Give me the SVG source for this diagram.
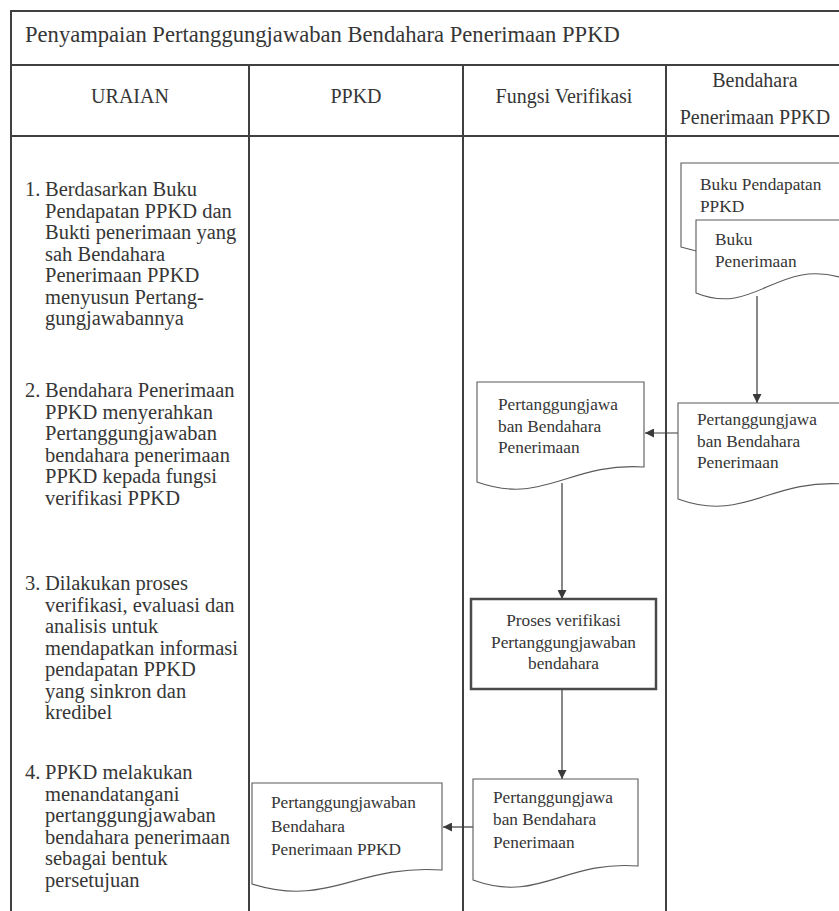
<svg xmlns="http://www.w3.org/2000/svg" width="839" height="911" viewBox="0 0 839 911">
  <defs>
    <marker id="arrow" viewBox="0 0 10 10" refX="10" refY="5" markerWidth="10" markerHeight="9" markerUnits="userSpaceOnUse" orient="auto">
      <path d="M0,0 L10,5 L0,10 z" fill="#3a3a3a"/>
    </marker>
    <style>
      .grid { stroke: #404040; stroke-width: 2; fill: none; }
      .doc { fill: #ffffff; stroke: #5a5a5a; stroke-width: 1.1; }
      .proc { fill: #ffffff; stroke: #4a4a4a; stroke-width: 2.5; }
      .conn { stroke: #3a3a3a; stroke-width: 1.2; fill: none; marker-end: url(#arrow); }
      text { font-family: "Liberation Serif", "Times New Roman", serif; fill: #363636; }
      .title { font-size: 22.6px; }
      .head { font-size: 20px; text-anchor: middle; }
      .step { font-size: 20.5px; }
      .lbl { font-size: 17.3px; }
      .mid { text-anchor: middle; }
    </style>
  </defs>

  <rect width="839" height="911" fill="#ffffff"/>

  <!-- table frame -->
  <g id="table">
    <line class="grid" x1="11" y1="11" x2="839" y2="11"/>
    <line class="grid" x1="11" y1="65" x2="839" y2="65"/>
    <line class="grid" x1="11" y1="136" x2="839" y2="136"/>
    <line class="grid" x1="11" y1="10" x2="11" y2="911"/>
    <line class="grid" x1="249" y1="65" x2="249" y2="911"/>
    <line class="grid" x1="463" y1="65" x2="463" y2="911"/>
    <line class="grid" x1="666" y1="65" x2="666" y2="911"/>
    <text class="title" x="25" y="42">Penyampaian Pertanggungjawaban Bendahara Penerimaan PPKD</text>
    <text class="head" x="130" y="103">URAIAN</text>
    <text class="head" x="356" y="103">PPKD</text>
    <text class="head" x="564" y="103">Fungsi Verifikasi</text>
    <text class="head" x="755" y="87">Bendahara</text>
    <text class="head" x="755" y="124">Penerimaan PPKD</text>
  </g>

  <!-- step descriptions -->
  <g id="steps">
    <g id="step1">
      <text class="step" x="25" y="196">1.</text>
      <text class="step" y="196">
        <tspan x="45">Berdasarkan Buku</tspan>
        <tspan x="45" dy="21.5">Pendapatan PPKD dan</tspan>
        <tspan x="45" dy="21.5">Bukti penerimaan yang</tspan>
        <tspan x="45" dy="21.5">sah Bendahara</tspan>
        <tspan x="45" dy="21.5">Penerimaan PPKD</tspan>
        <tspan x="45" dy="21.5">menyusun Pertang-</tspan>
        <tspan x="45" dy="21.5">gungjawabannya</tspan>
      </text>
    </g>
    <g id="step2">
      <text class="step" x="25" y="397">2.</text>
      <text class="step" y="397">
        <tspan x="45">Bendahara Penerimaan</tspan>
        <tspan x="45" dy="21.5">PPKD menyerahkan</tspan>
        <tspan x="45" dy="21.5">Pertanggungjawaban</tspan>
        <tspan x="45" dy="21.5">bendahara penerimaan</tspan>
        <tspan x="45" dy="21.5">PPKD kepada fungsi</tspan>
        <tspan x="45" dy="21.5">verifikasi PPKD</tspan>
      </text>
    </g>
    <g id="step3">
      <text class="step" x="25" y="590">3.</text>
      <text class="step" y="590">
        <tspan x="45">Dilakukan proses</tspan>
        <tspan x="45" dy="21.5">verifikasi, evaluasi dan</tspan>
        <tspan x="45" dy="21.5">analisis untuk</tspan>
        <tspan x="45" dy="21.5">mendapatkan informasi</tspan>
        <tspan x="45" dy="21.5">pendapatan PPKD</tspan>
        <tspan x="45" dy="21.5">yang sinkron dan</tspan>
        <tspan x="45" dy="21.5">kredibel</tspan>
      </text>
    </g>
    <g id="step4">
      <text class="step" x="25" y="779">4.</text>
      <text class="step" y="779">
        <tspan x="45">PPKD melakukan</tspan>
        <tspan x="45" dy="21.5">menandatangani</tspan>
        <tspan x="45" dy="21.5">pertanggungjawaban</tspan>
        <tspan x="45" dy="21.5">bendahara penerimaan</tspan>
        <tspan x="45" dy="21.5">sebagai bentuk</tspan>
        <tspan x="45" dy="21.5">persetujuan</tspan>
      </text>
    </g>
  </g>

  <!-- connectors -->
  <g id="connectors">
    <line class="conn" x1="757" y1="296" x2="757" y2="403"/>
    <line class="conn" x1="678" y1="433" x2="645" y2="433"/>
    <line class="conn" x1="562" y1="483" x2="562" y2="599"/>
    <line class="conn" x1="562" y1="689" x2="562" y2="779"/>
    <line class="conn" x1="473" y1="827" x2="443" y2="827"/>
  </g>

  <!-- documents: bottom edge is a wave (left low, right high) -->
  <g id="buku-pendapatan">
    <path class="doc" d="M681,163 H843 V232 C790,247 765,271 681,247 Z"/>
    <text class="lbl" x="700" y="190">Buku Pendapatan</text>
    <text class="lbl" x="700" y="212">PPKD</text>
  </g>
  <g id="buku-penerimaan">
    <path class="doc" d="M696,220 H843 V278 C777,258 755,317 696,293 Z"/>
    <text class="lbl" x="715" y="245">Buku</text>
    <text class="lbl" x="715" y="267">Penerimaan</text>
  </g>
  <g id="ptj-bendahara">
    <path class="doc" d="M678,403 H843 V484 C769,479 744,523 678,499 Z"/>
    <text class="lbl" x="697" y="425">Pertanggungjawa</text>
    <text class="lbl" x="697" y="447">ban Bendahara</text>
    <text class="lbl" x="697" y="468">Penerimaan</text>
  </g>
  <g id="ptj-verifikasi">
    <path class="doc" d="M477,382 H644 V467 C569,462 544,506 477,482 Z"/>
    <text class="lbl" x="498" y="410">Pertanggungjawa</text>
    <text class="lbl" x="498" y="432">ban Bendahara</text>
    <text class="lbl" x="498" y="453">Penerimaan</text>
  </g>
  <g id="proses-verifikasi">
    <rect class="proc" x="471" y="599" width="185" height="90"/>
    <text class="lbl mid" x="563.5" y="626">Proses verifikasi</text>
    <text class="lbl mid" x="563.5" y="648">Pertanggungjawaban</text>
    <text class="lbl mid" x="563.5" y="669">bendahara</text>
  </g>
  <g id="ptj-hasil">
    <path class="doc" d="M473,779 H638 V866 C564,860 539,904 473,880 Z"/>
    <text class="lbl" x="493" y="803">Pertanggungjawa</text>
    <text class="lbl" x="493" y="825">ban Bendahara</text>
    <text class="lbl" x="493" y="848">Penerimaan</text>
  </g>
  <g id="ptj-ppkd">
    <path class="doc" d="M252,783 H442 V870 C357,864 328,908 252,884 Z"/>
    <text class="lbl" x="271" y="808">Pertanggungjawaban</text>
    <text class="lbl" x="271" y="832">Bendahara</text>
    <text class="lbl" x="271" y="855">Penerimaan PPKD</text>
  </g>
</svg>
